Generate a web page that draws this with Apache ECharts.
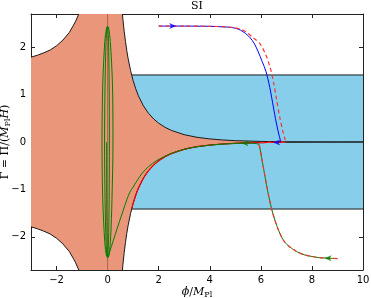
<!DOCTYPE html>
<html><head><meta charset="utf-8">
<script src="https://cdn.jsdelivr.net/npm/echarts@6/dist/echarts.min.js"></script>
<style>html,body{margin:0;padding:0;background:#fff}#c{width:371px;height:298px}</style>
</head><body><div id="c"></div>
<script>
// ---- data ----
const xTicks = [-2, 0, 2, 4, 6, 8, 10];
const yTicks = [-2, -1, 0, 1, 2];
const bandGamma = [-1.414, 1.414];

const upperRightPhi   = [0.58, 0.6, 0.65, 0.7, 0.75, 0.8, 0.9, 1.0, 1.1, 1.2, 1.4, 1.6, 1.8, 2.0, 2.25, 2.5, 3.0, 3.5, 4.0, 4.5, 5.0, 6.0, 7.0, 8.0, 9.0, 10.0];
const upperRightGamma = [2.70, 2.58, 2.33, 2.12, 1.93, 1.77, 1.505, 1.294, 1.123, 0.981, 0.764, 0.606, 0.488, 0.396, 0.309, 0.244, 0.154, 0.099, 0.065, 0.0426, 0.028, 0.0123, 0.0054, 0.0024, 0.00105, 0.00046];
const lowerRightPhi   = [0.58, 0.6, 0.65, 0.7, 0.75, 0.8, 0.9, 1.0, 1.1, 1.2, 1.4, 1.6, 1.8, 2.0, 2.25, 2.5, 3.0, 3.5, 4.0, 4.5, 5.0, 6.0, 7.0, 8.0, 9.0, 10.0];
const lowerRightGamma = [-2.70, -2.58, -2.33, -2.12, -1.93, -1.77, -1.505, -1.294, -1.123, -0.981, -0.764, -0.606, -0.488, -0.396, -0.309, -0.244, -0.154, -0.099, -0.065, -0.0426, -0.028, -0.0123, -0.0054, -0.0024, -0.00105, -0.00046];
const upperLeftPhi    = [-3.0, -2.75, -2.5, -2.25, -2.0, -1.75, -1.5, -1.35, -1.25, -1.13];
const upperLeftGamma  = [1.79, 1.83, 1.88, 1.94, 2.03, 2.15, 2.31, 2.45, 2.55, 2.70];
const lowerLeftPhi    = [-3.0, -2.75, -2.5, -2.25, -2.0, -1.75, -1.5, -1.35, -1.25, -1.13];
const lowerLeftGamma  = [-1.79, -1.83, -1.88, -1.94, -2.03, -2.15, -2.31, -2.45, -2.55, -2.70];
const zeroLinePhi     = [0, 0];
const zeroLineGamma   = [-2.7, 2.7];

const bluePhi   = [2.0, 2.5, 3.0, 3.5, 4.0, 4.5, 4.8, 5.0, 5.2, 5.4, 5.58, 5.75, 5.9, 6.05, 6.2, 6.35, 6.49, 6.6, 6.7, 6.76, 6.78, 6.6, 6.3, 6.0, 5.85];
const blueGamma = [2.445, 2.445, 2.445, 2.443, 2.44, 2.43, 2.42, 2.40, 2.36, 2.29, 2.2, 2.07, 1.9, 1.7, 1.49, 1.15, 0.74, 0.42, 0.17, 0.05, 0.0, -0.008, -0.01, -0.012, -0.014];

const redUpperPhi   = [2.0, 3.0, 4.0, 4.6, 5.0, 5.25, 5.45, 5.7, 5.97, 6.2, 6.36, 6.5, 6.62, 6.75, 6.85, 6.95, 7.0, 6.7, 6.3, 5.9];
const redUpperGamma = [2.445, 2.445, 2.44, 2.43, 2.41, 2.37, 2.31, 2.2, 2.07, 1.83, 1.58, 1.25, 0.88, 0.5, 0.25, 0.05, 0.0, -0.006, -0.01, -0.013];

const redLowerPhi   = [9.0, 8.63, 8.3, 8.06, 7.7, 7.4, 7.1, 6.88, 6.7, 6.55, 6.43, 6.32, 6.22, 6.12, 6.03, 5.97, 5.92];
const redLowerGamma = [-2.46, -2.45, -2.44, -2.42, -2.38, -2.31, -2.2, -2.07, -1.87, -1.65, -1.43, -1.17, -0.9, -0.6, -0.33, -0.15, -0.05];

const redAttrPhi   = [6.9, 6.5, 6.0, 5.5, 5.0, 4.5, 4.0, 3.5, 3.0, 2.5, 2.25, 2.0, 1.8, 1.6, 1.4, 1.2, 1.1, 1.0, 0.94];
const redAttrGamma = [-0.0045, -0.007, -0.0123, -0.019, -0.028, -0.0426, -0.065, -0.099, -0.154, -0.244, -0.309, -0.396, -0.488, -0.606, -0.764, -0.981, -1.123, -1.294, -1.41];

const greenPhi = [9.0, 8.63, 8.3, 8.06, 7.7, 7.4, 7.1, 6.88, 6.7, 6.55, 6.43, 6.32, 6.22, 6.12, 6.03, 5.97, 5.92,
  5.5, 5.0, 4.5, 4.0, 3.5, 3.0, 2.5, 2.2, 1.9, 1.6, 1.4, 1.27, 1.1, 1.0, 0.88, 0.75, 0.6, 0.45, 0.3, 0.15, 0.05, 0.02,
  -0.04, -0.11, -0.19, -0.22, -0.19, -0.11, -0.04, 0.0, 0.04, 0.105, 0.19, 0.21,
  0.17, 0.12, 0.06, 0.02, 0.0, -0.02, -0.06, -0.10, -0.12,
  -0.10, -0.06, -0.02, 0.0, 0.01, 0.035, 0.06, 0.07,
  0.06, 0.035, 0.0, -0.02, -0.035, -0.04];
const greenGamma = [-2.46, -2.45, -2.44, -2.42, -2.38, -2.31, -2.2, -2.07, -1.87, -1.65, -1.43, -1.17, -0.9, -0.6, -0.33, -0.15, -0.05,
  -0.022, -0.03, -0.044, -0.067, -0.1, -0.152, -0.238, -0.31, -0.4, -0.52, -0.63, -0.72, -0.86, -0.95, -1.05, -1.22, -1.46, -1.70, -1.95, -2.20, -2.37, -2.43,
  -2.41, -2.12, -1.22, 0.0, 1.22, 2.12, 2.41, 2.44, 2.41, 2.12, 1.22, 0.0,
  -1.22, -2.0, -2.38, -2.43, -2.44, -2.41, -2.12, -1.22, 0.0,
  1.22, 2.12, 2.41, 2.44, 2.41, 2.12, 1.22, 0.0,
  -1.22, -2.12, -2.44, -2.12, -1.22, 0.0];

const arrowPhi   = [2.55, 6.62, 8.63, 5.38];
const arrowGamma = [2.445, -0.009, -2.45, -0.026];
const arrowDir   = ['right', 'left', 'left', 'left'];
const arrowColor = ['#0000ff', '#0000ff', '#008000', '#008000'];

// ---- build ----
const zip = (a, b) => a.map((v, i) => [v, b[i]]);
const SALMON = '#e9967a', SKY = '#87ceeb', EDGE = '#1a1a1a';
const salmonPoly = [].concat(
  zip(upperLeftPhi, upperLeftGamma),
  zip(upperRightPhi, upperRightGamma),
  zip(lowerRightPhi, lowerRightGamma).reverse(),
  zip(lowerLeftPhi, lowerLeftGamma).reverse()
);
const fmt = v => (v < 0 ? '\u2212' + Math.abs(v) : '' + v);
const tickFont = {fontFamily: 'DejaVu Sans', fontSize: 10, color: '#000'};
function lineS(data, color, width, z, type) {
  return {type: 'line', data, symbol: 'none', silent: true, z, animation: false,
    lineStyle: {color, width, type: type || 'solid'}};
}
const arrowPath = 'path://M0,0 L10,5 L0,10 L2.5,5 Z';
const axLine = {show: true, onZero: false, lineStyle: {color: '#222', width: 1}};
const tick = vals => ({show: true, inside: true, length: 4, customValues: vals, lineStyle: {color: '#222'}});
const nameRich = {
  r: {fontFamily: 'DejaVu Serif', fontSize: 11, color: '#000'},
  i: {fontFamily: 'DejaVu Serif', fontStyle: 'italic', fontSize: 11, color: '#000'},
  s: {fontFamily: 'DejaVu Serif', fontSize: 8, color: '#000', padding: [5, 0, 0, 0]}};

const chart = echarts.init(document.getElementById('c'), null, {renderer: 'canvas'});
chart.setOption({
  animation: false,
  title: {text: 'SI', left: 197, top: 1, padding: 0, textAlign: 'center',
    textStyle: {fontFamily: 'DejaVu Serif', fontSize: 11, fontWeight: 'normal', color: '#000'}},
  grid: {left: 31, right: 8, top: 14, bottom: 28, containLabel: false, outerBoundsMode: 'none'},
  xAxis: [{
    type: 'value', min: -3, max: 10, position: 'bottom',
    name: '{i|ϕ}{r|/}{i|M}{s|Pl}', nameLocation: 'middle', nameGap: 16, nameMoveOverlap: false,
    nameTextStyle: {fontFamily: 'DejaVu Serif', fontSize: 11, color: '#000', rich: nameRich},
    axisLine: axLine, axisTick: tick(xTicks),
    axisLabel: Object.assign({customValues: xTicks, formatter: fmt, margin: 5}, tickFont),
    splitLine: {show: false}
  }, {
    type: 'value', min: -3, max: 10, position: 'top',
    axisLine: axLine, axisTick: tick(xTicks),
    axisLabel: {show: false}, splitLine: {show: false}
  }],
  yAxis: [{
    type: 'value', min: -2.7, max: 2.7, position: 'left',
    name: '{r|Γ = Π/(}{i|M}{s|Pl}{i|H}{r|)}', nameLocation: 'middle', nameGap: 19, nameRotate: 90,
    nameMoveOverlap: false,
    nameTextStyle: {fontFamily: 'DejaVu Serif', fontSize: 11, color: '#000', rich: nameRich},
    axisLine: axLine, axisTick: tick(yTicks),
    axisLabel: Object.assign({customValues: yTicks, formatter: fmt, margin: 5}, tickFont),
    splitLine: {show: false}
  }, {
    type: 'value', min: -2.7, max: 2.7, position: 'right',
    axisLine: axLine, axisTick: tick(yTicks),
    axisLabel: {show: false}, splitLine: {show: false}
  }],
  series: [
    {type: 'custom', z: 1, silent: true, data: [[0, 0]], clip: true,
      renderItem: (p, api) => {
        const a = api.coord([-3, bandGamma[1]]), b = api.coord([10, bandGamma[0]]);
        return {type: 'rect', shape: {x: a[0], y: a[1], width: b[0] - a[0], height: b[1] - a[1]}, style: {fill: SKY}};
      }},
    lineS([[-3, bandGamma[1]], [10, bandGamma[1]]], EDGE, 1, 1),
    lineS([[-3, bandGamma[0]], [10, bandGamma[0]]], EDGE, 1, 1),
    {type: 'custom', z: 2, silent: true, data: [[0, 0]], clip: true,
      renderItem: (p, api) => ({type: 'polygon', shape: {points: salmonPoly.map(q => api.coord(q))}, style: {fill: SALMON}})},
    lineS(zip(zeroLinePhi, zeroLineGamma), '#a8644e', 1, 3),
    lineS(zip(upperRightPhi, upperRightGamma), EDGE, 1, 3),
    lineS(zip(lowerRightPhi, lowerRightGamma), EDGE, 1, 3),
    lineS(zip(upperLeftPhi, upperLeftGamma), EDGE, 1, 3),
    lineS(zip(lowerLeftPhi, lowerLeftGamma), EDGE, 1, 3),
    Object.assign(lineS(zip(bluePhi, blueGamma), '#0000ff', 1, 4), {smooth: 0.3}),
    Object.assign(lineS(zip(redAttrPhi, redAttrGamma), '#ff0000', 1.2, 4), {smooth: 0.3}),
    Object.assign(lineS(zip(greenPhi, greenGamma), '#008000', 1, 5), {smooth: 0.3}),
    Object.assign(lineS(zip(redUpperPhi, redUpperGamma), '#ff3030', 1.2, 6, [4, 3]), {smooth: 0.3}),
    Object.assign(lineS(zip(redLowerPhi, redLowerGamma), '#ff3030', 1.2, 6, [4, 3]), {smooth: 0.3}),
    {type: 'scatter', z: 7, silent: true, symbol: arrowPath, symbolSize: [7, 6],
      data: arrowPhi.map((v, i) => ({value: [v, arrowGamma[i]], symbolRotate: arrowDir[i] === 'left' ? 180 : 0,
        itemStyle: {color: arrowColor[i]}}))}
  ]
});
</script></body></html>
